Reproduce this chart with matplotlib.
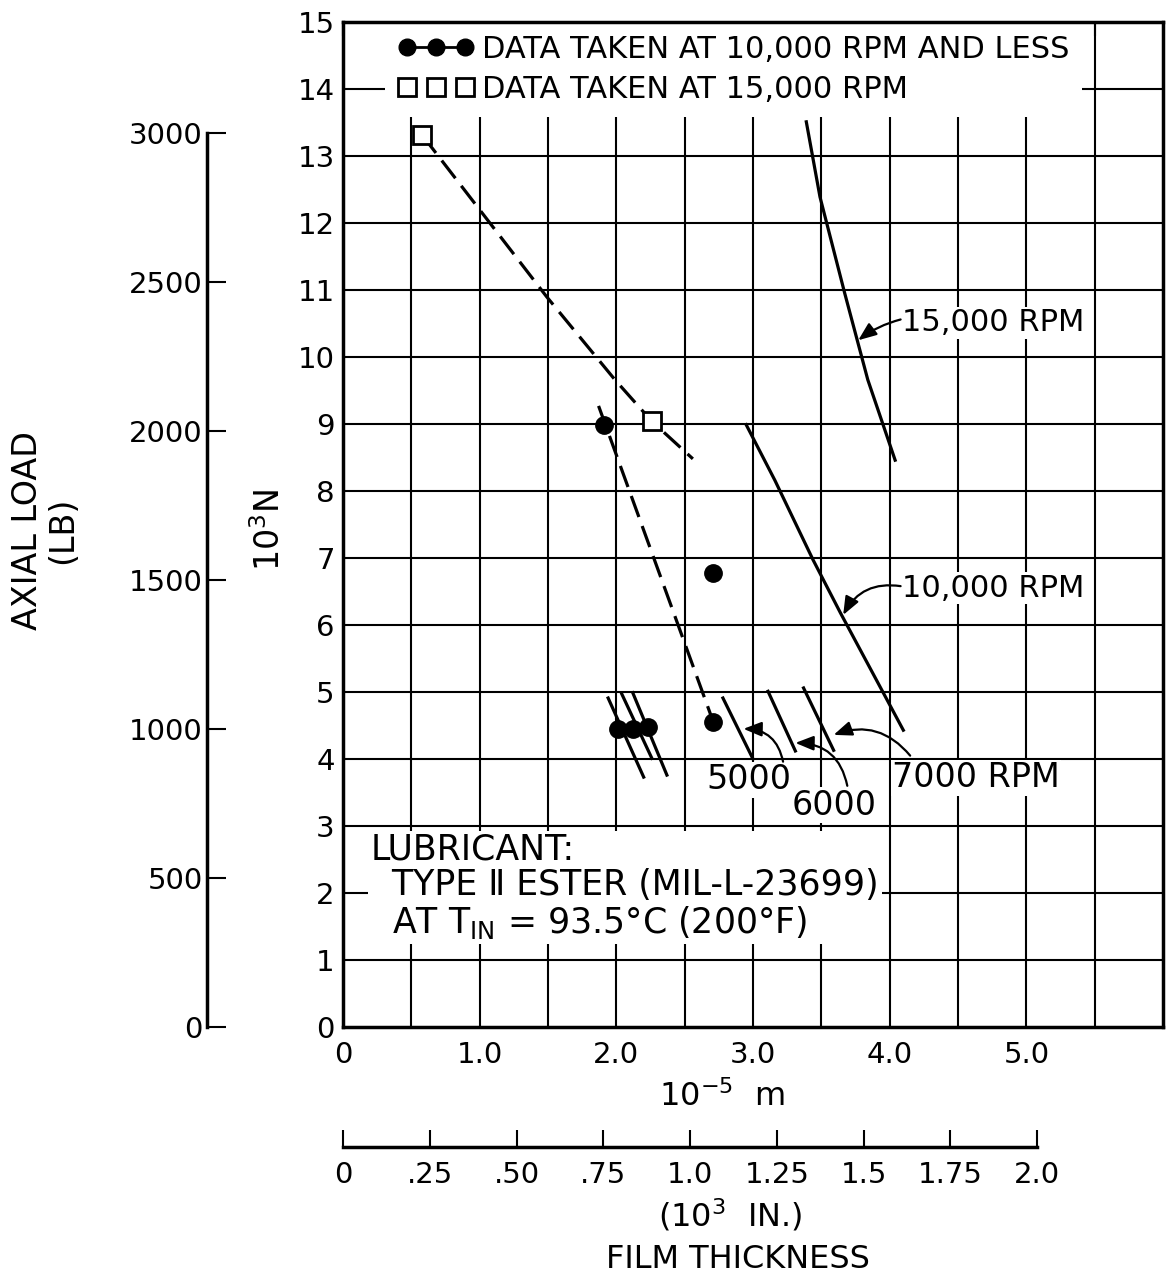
"""
Film thickness vs axial load for a ball bearing lubricated with a Type II ester.
Measured points at 10,000 rpm and below and at 15,000 rpm, with the predicted
curves, drawn with dual metric / English scales.
"""
import numpy as np
import matplotlib
matplotlib.use('Agg')
import matplotlib.pyplot as plt
from matplotlib.lines import Line2D

plt.rcParams['font.family'] = ['DejaVu Sans']
plt.rcParams['mathtext.fontset'] = 'dejavusans'

N_PER_LB = 4.44822   # newtons per pound force
M_PER_IN = 2.54      # 10^-5 m per 10^-3 in.

# film thickness in 10^-5 m, load in 10^3 N
# measured at 15,000 rpm and the dashed fit through them
sq_x = [0.58, 2.26]
sq_y = [13.31, 9.04]
fit15_x = [0.58, 1.49, 1.99, 2.26, 2.56]
fit15_y = [13.31, 10.90, 9.66, 9.04, 8.48]

# measured at 10,000 rpm and less and the dashed fit
dot_x = [1.91, 2.71, 2.71, 2.01, 2.12, 2.23]
dot_y = [8.99, 6.78, 4.55, 4.45, 4.45, 4.48]
fit10_x = [1.87, 2.71]
fit10_y = [9.27, 4.55]

# predicted curves
pred15_x = [3.39, 3.49, 3.67, 3.84, 4.04]
pred15_y = [13.51, 12.39, 10.96, 9.66, 8.46]
pred10_x = [2.95, 3.16, 3.44, 3.64, 4.10]
pred10_y = [8.99, 8.16, 6.97, 6.18, 4.43]

# short predicted segments at the low speeds (start, end)
low_x = [[1.94, 2.20], [2.04, 2.26], [2.12, 2.37],
         [2.78, 3.00], [3.11, 3.31], [3.37, 3.59]]
low_y = [[4.91, 3.73], [4.97, 4.01], [4.99, 3.76],
         [4.91, 4.00], [5.01, 4.12], [5.06, 4.13]]

x_ticks = [0, 1, 2, 3, 4, 5]
x_labels = ['0', '1.0', '2.0', '3.0', '4.0', '5.0']
y_ticks = list(range(16))
in_ticks = [0, 0.25, 0.5, 0.75, 1.0, 1.25, 1.5, 1.75, 2.0]
in_labels = ['0', '.25', '.50', '.75', '1.0', '1.25', '1.5', '1.75', '2.0']
lb_ticks = [0, 500, 1000, 1500, 2000, 2500, 3000]

W, H = 1166, 1281
fig = plt.figure(figsize=(W / 100, H / 100), dpi=100)

ax_left, ax_bottom = 343 / W, (H - 1027) / H
ax_w, ax_h = 820 / W, 1005 / H
ax = fig.add_axes([ax_left, ax_bottom, ax_w, ax_h])
ax.set_xlim(0, 6)
ax.set_ylim(0, 15)

# grid: every 0.5 across, every unit up
for gx in np.arange(0.5, 6.0, 0.5):
    ax.axvline(gx, color='k', lw=1.5, zorder=1)
for gy in range(1, 15):
    ax.axhline(gy, color='k', lw=1.5, zorder=1)

ax.set_xticks(x_ticks, x_labels)
ax.set_xticks(np.arange(0.5, 6.0, 0.5), minor=True)
ax.set_yticks(y_ticks)
ax.tick_params(which='both', direction='in', top=True, bottom=False,
               left=False, right=False, length=10, width=1.5)
ax.tick_params(axis='x', labelsize=21, pad=10)
ax.tick_params(axis='y', labelsize=21, pad=6)
for s in ax.spines.values():
    s.set_linewidth(2.5)

dash = (0, (7, 3))
ax.plot(fit15_x, fit15_y, color='k', lw=2.3, ls=dash, zorder=2)
ax.plot(fit10_x, fit10_y, color='k', lw=2.3, ls=dash, zorder=2)
ax.plot(pred15_x, pred15_y, color='k', lw=2.3, zorder=2)
ax.plot(pred10_x, pred10_y, color='k', lw=2.3, zorder=2)
for sx, sy in zip(low_x, low_y):
    ax.plot(sx, sy, color='k', lw=2.3, zorder=2)
ax.plot(sq_x, sq_y, ls='none', marker='s', ms=13, mfc='white', mec='k',
        mew=2, zorder=3)
ax.plot(dot_x, dot_y, ls='none', marker='o', ms=12.5, color='k', zorder=3)

h_dot = Line2D([], [], color='k', lw=2, marker='o', ms=12)
h_sq = Line2D([], [], ls='none', marker='s', ms=13, mfc='white', mec='k', mew=2)
leg = ax.legend([h_dot, h_sq],
                ['DATA TAKEN AT 10,000 RPM AND LESS', 'DATA TAKEN AT 15,000 RPM'],
                loc='upper left', bbox_to_anchor=(0.051, 1.0), borderaxespad=0,
                numpoints=3, handlelength=2.5, handletextpad=0.25,
                labelspacing=0.36, borderpad=0.42, frameon=True, fancybox=False,
                framealpha=1, facecolor='white', edgecolor='none', fontsize=22)
leg.set_zorder(1.5)

ax.text(0.20, 2.90, 'LUBRICANT:\n  TYPE \u2161 ESTER (MIL-L-23699)\n'
        '  AT T$_{\\rm IN}$ = 93.5°C (200°F)', fontsize=25, ha='left', va='top',
        linespacing=1.06, bbox=dict(fc='white', ec='none', pad=2), zorder=3)

box = dict(fc='white', ec='none', pad=1)
ax.text(4.09, 10.51, '15,000 RPM', fontsize=22, ha='left', va='center', bbox=box, zorder=3)
ax.text(4.09, 6.55, '10,000 RPM', fontsize=22, ha='left', va='center', bbox=box, zorder=3)
ax.text(2.97, 3.69, '5000', fontsize=24, ha='center', va='center', bbox=box, zorder=3)
ax.text(3.59, 3.31, '6000', fontsize=24, ha='center', va='center', bbox=box, zorder=3)
ax.text(4.02, 3.72, '7000 RPM', fontsize=24, ha='left', va='center', bbox=box, zorder=3)

arrows = [((4.08, 10.56), (3.77, 10.25), 0.1),
          ((4.08, 6.58), (3.66, 6.15), 0.35),
          ((3.22, 3.96), (2.93, 4.45), 0.4),
          ((3.69, 3.60), (3.31, 4.24), 0.4),
          ((4.15, 4.05), (3.59, 4.36), 0.35)]
for start, tip, rad in arrows:
    ax.annotate('', xy=tip, xytext=start, zorder=4,
                arrowprops=dict(arrowstyle='-|>,head_length=0.55,head_width=0.22',
                                color='k', lw=1.6, mutation_scale=20,
                                shrinkA=0, shrinkB=0,
                                connectionstyle=f'arc3,rad={rad}'))

# axial load scale in pounds
ax_lb = fig.add_axes([207 / W, ax_bottom, 0.03, ax_h])
ax_lb.set_ylim(0, 15 * 1000 / N_PER_LB)
ax_lb.set_yticks(lb_ticks)
ax_lb.set_xticks([])
ax_lb.patch.set_visible(False)
for side in ['top', 'right', 'bottom']:
    ax_lb.spines[side].set_visible(False)
ax_lb.spines['left'].set_bounds(0, 3000)
ax_lb.spines['left'].set_linewidth(2.5)
ax_lb.tick_params(axis='y', direction='in', length=14, width=1.5,
                  labelsize=21, pad=3)

# film thickness scale in inches
ax_in = fig.add_axes([ax_left, (H - 1147) / H, ax_w, 0.001])
ax_in.set_xlim(0, 6 / M_PER_IN)
ax_in.set_xticks(in_ticks, in_labels)
ax_in.set_yticks([])
ax_in.patch.set_visible(False)
for side in ['top', 'right', 'left']:
    ax_in.spines[side].set_visible(False)
ax_in.spines['bottom'].set_bounds(0, 2.0)
ax_in.spines['bottom'].set_linewidth(2.5)
ax_in.tick_params(axis='x', direction='in', length=12, width=1.5,
                  labelsize=21, pad=10)

fig.text(722 / W, 1 - 1097 / H, '10$^{-5}$  m', fontsize=23, ha='center', va='center')
fig.text(730 / W, 1 - 1215 / H, '(10$^3$  IN.)', fontsize=23, ha='center', va='center')
fig.text(738 / W, 1 - 1260 / H, 'FILM THICKNESS', fontsize=23, ha='center', va='center')
fig.text(270 / W, 1 - 530 / H, '10$^3$N', fontsize=24, rotation=90,
         ha='center', va='center')
fig.text(45 / W, 1 - 530 / H, 'AXIAL LOAD\n(LB)', fontsize=24, rotation=90,
         ha='center', va='center', multialignment='center', linespacing=1.1)

fig.savefig('out.png', dpi=100)
